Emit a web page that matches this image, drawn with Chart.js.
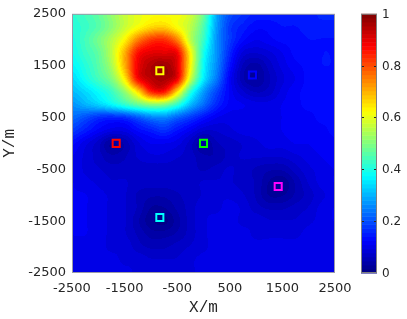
<!DOCTYPE html>
<html>
<head>
<meta charset="utf-8">
<script src="https://cdn.jsdelivr.net/npm/chart.js@4.4.0/dist/chart.umd.min.js"></script>
<style>
  html, body { margin: 0; padding: 0; background: #fff; }
  #wrap { position: relative; width: 407px; height: 319px; }
</style>
</head>
<body>
<div id="wrap"><canvas id="fieldChart" width="407" height="319"></canvas></div>
<script>
// grid nodes in metres
const gridX = [-2500, -2250, -2000, -1750, -1500, -1250, -1000, -750, -500, -250, 0,
               250, 500, 750, 1000, 1250, 1500, 1750, 2000, 2250, 2500];
const gridY = [2500, 2250, 2000, 1750, 1500, 1250, 1000, 750, 500, 250, 0,
               -250, -500, -750, -1000, -1250, -1500, -1750, -2000, -2250, -2500];

// normalised field, one row per gridY (top to bottom)
const fieldValues = [
  [0.42,0.44,0.47,0.52,0.57,0.60,0.62,0.62,0.62,0.58,0.48,0.29,0.20,0.17,0.15,0.15,0.15,0.15,0.15,0.16,0.16],
  [0.41,0.43,0.46,0.51,0.57,0.62,0.66,0.67,0.62,0.56,0.45,0.28,0.18,0.15,0.13,0.13,0.14,0.14,0.15,0.15,0.15],
  [0.40,0.44,0.49,0.55,0.63,0.75,0.82,0.83,0.75,0.56,0.43,0.27,0.18,0.13,0.11,0.12,0.13,0.13,0.14,0.14,0.14],
  [0.39,0.43,0.47,0.56,0.70,0.86,0.90,0.90,0.88,0.63,0.40,0.27,0.16,0.09,0.08,0.09,0.11,0.13,0.13,0.14,0.14],
  [0.37,0.41,0.46,0.54,0.70,0.885,0.95,0.97,0.90,0.63,0.38,0.26,0.14,0.06,0.04,0.07,0.10,0.12,0.13,0.14,0.14],
  [0.34,0.39,0.44,0.50,0.64,0.87,0.94,0.96,0.89,0.58,0.36,0.24,0.12,0.05,0.03,0.06,0.09,0.11,0.13,0.13,0.14],
  [0.31,0.34,0.38,0.43,0.52,0.66,0.84,0.86,0.66,0.42,0.28,0.19,0.12,0.08,0.06,0.07,0.10,0.12,0.13,0.13,0.13],
  [0.27,0.30,0.33,0.37,0.42,0.47,0.51,0.50,0.42,0.31,0.23,0.16,0.12,0.11,0.10,0.10,0.11,0.12,0.13,0.13,0.13],
  [0.23,0.20,0.17,0.16,0.17,0.21,0.25,0.26,0.22,0.18,0.14,0.11,0.10,0.10,0.10,0.10,0.11,0.12,0.12,0.13,0.13],
  [0.18,0.15,0.12,0.10,0.10,0.13,0.15,0.17,0.14,0.11,0.08,0.08,0.09,0.10,0.10,0.10,0.11,0.12,0.12,0.12,0.13],
  [0.13,0.10,0.07,0.03,0.05,0.09,0.11,0.11,0.10,0.07,0.03,0.06,0.07,0.08,0.09,0.10,0.10,0.11,0.11,0.12,0.12],
  [0.11,0.09,0.07,0.05,0.06,0.08,0.09,0.09,0.08,0.07,0.05,0.05,0.07,0.08,0.08,0.08,0.08,0.09,0.10,0.11,0.12],
  [0.11,0.09,0.08,0.07,0.07,0.07,0.07,0.07,0.07,0.07,0.06,0.07,0.08,0.07,0.06,0.05,0.05,0.07,0.09,0.10,0.11],
  [0.11,0.10,0.09,0.08,0.08,0.07,0.07,0.07,0.07,0.07,0.08,0.08,0.08,0.07,0.06,0.03,0.02,0.05,0.08,0.10,0.11],
  [0.11,0.11,0.10,0.09,0.08,0.06,0.05,0.05,0.06,0.07,0.08,0.09,0.09,0.08,0.06,0.03,0.03,0.05,0.07,0.09,0.10],
  [0.11,0.11,0.10,0.09,0.08,0.06,0.03,0.03,0.05,0.07,0.09,0.09,0.10,0.09,0.07,0.06,0.06,0.07,0.08,0.10,0.11],
  [0.11,0.11,0.10,0.09,0.08,0.05,0.02,0.01,0.04,0.07,0.09,0.10,0.10,0.09,0.09,0.08,0.08,0.08,0.09,0.10,0.11],
  [0.11,0.11,0.10,0.09,0.08,0.06,0.04,0.04,0.05,0.07,0.09,0.10,0.10,0.10,0.09,0.09,0.09,0.09,0.10,0.10,0.10],
  [0.10,0.10,0.10,0.09,0.09,0.07,0.06,0.06,0.07,0.08,0.09,0.10,0.10,0.10,0.10,0.10,0.10,0.10,0.10,0.10,0.10],
  [0.10,0.10,0.10,0.10,0.09,0.09,0.08,0.08,0.08,0.09,0.10,0.10,0.10,0.10,0.10,0.10,0.10,0.10,0.10,0.10,0.10],
  [0.10,0.10,0.10,0.10,0.10,0.09,0.09,0.09,0.09,0.09,0.10,0.10,0.10,0.10,0.10,0.10,0.10,0.10,0.10,0.10,0.10]
];

// square markers
const markerX = [-830, -1660, 0, 930, 1420, -830];
const markerY = [1400, 0, 0, 1320, -830, -1430];
const markerColors = ['#ffff00', '#ff0000', '#00ff00', '#0000ff', '#ff00ff', '#00ffff'];

const xTicks = [-2500, -1500, -500, 500, 1500, 2500];
const yTicks = [-2500, -1500, -500, 500, 1500, 2500];
const cbTicks = [0, 0.2, 0.4, 0.6, 0.8, 1];
const cbTickLabels = ['0', '0.2', '0.4', '0.6', '0.8', '1'];

const textColor = '#262626';
const LEVELS = 64;

// MATLAB jet
function jet(v) {
    const c = t => Math.max(0, Math.min(1, t));
    return [
        c(1.5 - Math.abs(4 * v - 3)),
        c(1.5 - Math.abs(4 * v - 2)),
        c(1.5 - Math.abs(4 * v - 1))
    ].map(t => Math.round(t * 255));
}

// smooth shading between grid nodes (like shading interp)
function cubicWeights(t) {
    const t2 = t * t, t3 = t2 * t;
    return [(-t3 + 2 * t2 - t) / 2, (3 * t3 - 5 * t2 + 2) / 2, (-3 * t3 + 4 * t2 + t) / 2, (t3 - t2) / 2];
}
function sampleField(fi, fj) {
    const nx = gridX.length, ny = gridY.length;
    const i0 = Math.floor(fi), j0 = Math.floor(fj);
    const wi = cubicWeights(fi - i0), wj = cubicWeights(fj - j0);
    let s = 0;
    for (let n = 0; n < 4; n++) {
        const jj = Math.min(ny - 1, Math.max(0, j0 - 1 + n));
        for (let m = 0; m < 4; m++) {
            const ii = Math.min(nx - 1, Math.max(0, i0 - 1 + m));
            s += wj[n] * wi[m] * fieldValues[jj][ii];
        }
    }
    return s;
}

const heatmapPlugin = {
    id: 'heatmap',
    beforeDatasetsDraw(chart) {
        const { ctx, chartArea, scales: { x, y } } = chart;
        const left = Math.round(chartArea.left), top = Math.round(chartArea.top);
        const w = Math.round(chartArea.right) - left, h = Math.round(chartArea.bottom) - top;
        const off = document.createElement('canvas');
        off.width = w;
        off.height = h;
        const octx = off.getContext('2d');
        const img = octx.createImageData(w, h);
        const dxs = gridX[1] - gridX[0], dys = gridY[0] - gridY[1];
        for (let py = 0; py < h; py++) {
            const fj = (gridY[0] - y.getValueForPixel(top + py + 0.5)) / dys;
            for (let px = 0; px < w; px++) {
                const fi = (x.getValueForPixel(left + px + 0.5) - gridX[0]) / dxs;
                let v = Math.max(0, Math.min(1, sampleField(fi, fj)));
                const lvl = Math.min(LEVELS - 1, Math.floor(v * LEVELS));
                const [r, g, b] = jet((lvl + 0.5) / LEVELS);
                const k = (py * w + px) * 4;
                img.data[k] = r;
                img.data[k + 1] = g;
                img.data[k + 2] = b;
                img.data[k + 3] = 255;
            }
        }
        octx.putImageData(img, 0, 0);
        ctx.drawImage(off, left, top);

        // axes box
        ctx.save();
        ctx.strokeStyle = '#9a9aa8';
        ctx.lineWidth = 1;
        ctx.strokeRect(chartArea.left + 0.5, chartArea.top + 0.5, chartArea.width - 1, chartArea.height - 1);
        ctx.restore();
    }
};

const colorbarPlugin = {
    id: 'colorbar',
    afterDraw(chart) {
        const { ctx, chartArea, scales: { cb } } = chart;
        const x0 = chartArea.right + 26, w = 16;
        ctx.save();
        for (let i = 0; i < LEVELS; i++) {
            const yA = cb.getPixelForValue(i / LEVELS);
            const yB = cb.getPixelForValue((i + 1) / LEVELS);
            const [r, g, b] = jet((i + 0.5) / LEVELS);
            ctx.fillStyle = `rgb(${r},${g},${b})`;
            ctx.fillRect(x0, yB, w, yA - yB + 0.5);
        }
        const yTop = cb.getPixelForValue(1), yBot = cb.getPixelForValue(0);
        ctx.strokeStyle = '#7f7f7f';
        ctx.lineWidth = 1;
        ctx.strokeRect(x0 + 0.5, yTop + 0.5, w - 1, yBot - yTop - 1);

        ctx.strokeStyle = '#262626';
        ctx.fillStyle = textColor;
        ctx.font = '12px "DejaVu Sans"';
        ctx.textAlign = 'left';
        ctx.textBaseline = 'middle';
        cbTicks.forEach((v, i) => {
            const py = Math.round(cb.getPixelForValue(v)) + 0.5;
            if (i > 0 && i < cbTicks.length - 1) {
                ctx.beginPath();
                ctx.moveTo(x0 + 1, py); ctx.lineTo(x0 + 3, py);
                ctx.moveTo(x0 + w - 1, py); ctx.lineTo(x0 + w - 3, py);
                ctx.stroke();
            }
            ctx.fillText(cbTickLabels[i], x0 + w + 5, py);
        });
        ctx.restore();
    }
};

new Chart(document.getElementById('fieldChart'), {
    type: 'scatter',
    data: {
        datasets: markerX.map((mx, i) => ({
            data: [{ x: mx, y: markerY[i] }],
            pointStyle: 'rect',
            pointRadius: 5,
            pointHoverRadius: 5,
            borderWidth: 2,
            borderColor: markerColors[i],
            backgroundColor: 'rgba(0,0,0,0)'
        }))
    },
    options: {
        responsive: false,
        devicePixelRatio: 1,
        animation: false,
        layout: { padding: { left: 0, top: 11, right: 72, bottom: 0 } },
        plugins: {
            legend: { display: false },
            tooltip: { enabled: false }
        },
        scales: {
            x: {
                type: 'linear',
                min: -2500,
                max: 2500,
                afterBuildTicks: s => { s.ticks = xTicks.map(v => ({ value: v })); },
                afterFit: s => { s.height = 46; },
                grid: { display: false, drawTicks: false },
                border: { display: false },
                ticks: {
                    autoSkip: false,
                    maxRotation: 0,
                    padding: 8,
                    color: textColor,
                    font: { family: 'DejaVu Sans', size: 13 },
                    callback: v => String(v)
                },
                title: {
                    display: true,
                    text: 'X/m',
                    color: textColor,
                    font: { family: 'Liberation Mono', size: 16 },
                    padding: { top: 0, bottom: 2 }
                }
            },
            y: {
                type: 'linear',
                min: -2500,
                max: 2500,
                afterBuildTicks: s => { s.ticks = yTicks.map(v => ({ value: v })); },
                afterFit: s => { s.width = 72; },
                grid: { display: false, drawTicks: false },
                border: { display: false },
                ticks: {
                    autoSkip: false,
                    padding: 6,
                    color: textColor,
                    font: { family: 'DejaVu Sans', size: 13 },
                    callback: v => String(v)
                },
                title: {
                    display: true,
                    text: 'Y/m',
                    color: textColor,
                    font: { family: 'Liberation Mono', size: 16 },
                    padding: { top: 0, bottom: 2 }
                }
            },
            cb: {
                type: 'linear',
                position: 'right',
                min: 0,
                max: 1,
                display: false
            }
        }
    },
    plugins: [heatmapPlugin, colorbarPlugin]
});
</script>
</body>
</html>
